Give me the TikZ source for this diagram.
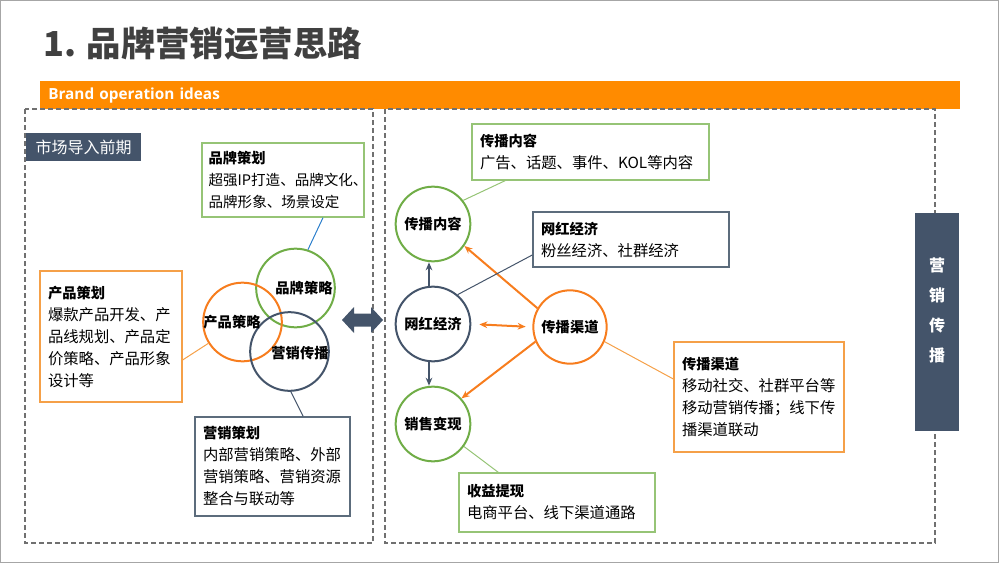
\documentclass[tikz,border=0pt]{standalone}
\usepackage{fontspec}
\setmainfont{Noto Sans CJK SC}
\newfontfamily\barfont{Open Sans}
\usetikzlibrary{arrows.meta}

\definecolor{slate}{RGB}{68,84,106}
\definecolor{barorange}{RGB}{255,139,0}
\definecolor{corange}{RGB}{247,125,30}
\definecolor{borange}{RGB}{245,160,72}
\definecolor{cgreen}{RGB}{112,173,71}
\definecolor{bgreen}{RGB}{150,196,118}
\definecolor{bslate}{RGB}{92,108,124}
\definecolor{lblue}{RGB}{46,128,204}
\definecolor{titlegray}{RGB}{64,64,64}
\definecolor{dgray}{RGB}{112,112,112}

\newcommand\boxhead[1]{{\bfseries\fontsize{10.7}{16.5}\selectfont #1}\\}

\begin{document}
\begin{tikzpicture}[x=0.75pt, y=-0.75pt,
  textbox/.style={draw, line width=1pt, align=left, inner xsep=6pt, inner ysep=0pt,
    font=\fontsize{11.5}{16.5}\selectfont},
  circ/.style={circle, line width=1.5pt, inner sep=0pt, font=\bfseries\fontsize{10.7}{13}\selectfont},
  cname/.style={inner sep=0pt, font=\bfseries\fontsize{10.7}{13}\selectfont},
  dashbox/.style={draw=dgray, line width=0.9pt, dash pattern=on 3.75pt off 2.25pt},
  oarrow/.style={draw=corange, line width=1.5pt, -{Stealth[length=6pt,width=5pt]}},
  darrow/.style={draw=slate, line width=1.5pt, -{Stealth[length=6pt,width=5pt]}}
]
  \useasboundingbox (0,0) rectangle (1000,564);
  \draw [gray!70, line width=0.75pt] (0.5,0.5) rectangle (998,562);

  % title and band
  \node [anchor=base west, inner sep=0pt, text=titlegray,
    font=\bfseries\fontsize{25.8}{30}\selectfont] (title) at (43,56) {1. 品牌营销运营思路};
  \node [anchor=north west, fill=barorange, minimum width=690pt, minimum height=21pt,
    text width=678pt, inner xsep=6pt, align=left, text=white,
    font=\barfont\bfseries\fontsize{11.5}{13}\selectfont] (band) at (40,81) {Brand operation ideas};

  \draw [dashbox] (25,109) rectangle (373,543);
  \draw [dashbox] (385,109) rectangle (935,543);

  % left panel
  \node [fill=slate, text=white, minimum width=86.25pt, minimum height=21pt, inner sep=0pt,
    font=\fontsize{12}{14}\selectfont] (stage) at (83.5,147) {市场导入前期};

  \node [circ, draw=cgreen, minimum size=59pt] (pb) at (295.5,288) {};
  \node [circ, draw=corange, minimum size=59pt] (cp) at (242.5,322) {};
  \node [circ, draw=slate, minimum size=59pt] (yx) at (289.5,351.5) {};
  \node [cname] (pbt) at (304,288) {品牌策略};
  \node [cname] (cpt) at (232,322) {产品策略};
  \node [cname] (yxt) at (300,353) {营销传播};

  \node [textbox, draw=bgreen, text width=111.5pt, inner xsep=5pt, minimum height=55.5pt,
    font=\fontsize{10.9}{16.5}\selectfont] (pcbox) at (283,180)
    {\boxhead{品牌策划}超强IP打造、品牌文化、\\品牌形象、场景设定};
  \node [textbox, draw=borange, text width=94.5pt, minimum height=98.25pt] (cpbox) at (111,336.5)
    {\boxhead{产品策划}爆款产品开发、产\\品线规划、产品定\\价策略、产品形象\\设计等};
  \node [textbox, draw=bslate, text width=104.25pt, minimum height=74.25pt] (yxbox) at (272.5,466.5)
    {\boxhead{营销策划}内部营销策略、外部\\营销策略、营销资源\\整合与联动等};

  \draw [lblue, line width=0.75pt] ([xshift=30pt]pcbox.south) -- (pb.72);
  \draw [borange, line width=0.75pt] ([yshift=-17.6pt]cpbox.east) -- (cp.212);
  \draw [slate, line width=0.75pt] (yx.-88) -- ([xshift=23pt]yxbox.north);

  % link between panels
  \fill [slate] (342,320) -- (354,307) -- (354,313.5) -- (371,313.5) -- (371,307) -- (383,320)
    -- (371,333) -- (371,326.5) -- (354,326.5) -- (354,333) -- cycle;

  % right panel
  \node [circ, draw=cgreen, minimum size=56pt] (ck) at (433,224) {传播内容};
  \node [circ, draw=slate, minimum size=56pt] (wh) at (433,324) {网红经济};
  \node [circ, draw=cgreen, minimum size=56pt] (xs) at (433,424) {销售变现};
  \node [circ, draw=corange, minimum size=55pt] (qd) at (570,327) {传播渠道};

  \node [textbox, draw=bgreen, text width=165.75pt, minimum height=42pt] (ckbox) at (590.5,152)
    {\boxhead{传播内容}广告、话题、事件、KOL等内容};
  \node [textbox, draw=bslate, text width=135pt, minimum height=41.25pt] (whbox) at (631,239.5)
    {\boxhead{网红经济}粉丝经济、社群经济};
  \node [textbox, draw=borange, text width=115.5pt, minimum height=82.5pt] (qdbox) at (759,397)
    {\boxhead{传播渠道}移动社交、社群平台等\\移动营销传播；线下传\\播渠道联动};
  \node [textbox, draw=bgreen, text width=135pt, minimum height=44.25pt] (sybox) at (557,502.5)
    {\boxhead{收益提现}电商平台、线下渠道通路};

  \draw [darrow] ([xshift=-3pt]wh.north) -- ([xshift=-3pt]ck.south);
  \draw [darrow] ([xshift=-3pt]wh.south) -- ([xshift=-3pt]xs.north);
  \draw [oarrow] (qd.150) -- (ck.-35);
  \draw [oarrow] (qd.203) -- (xs.42);
  \draw [oarrow, {Stealth[length=6pt,width=5pt]}-{Stealth[length=6pt,width=5pt]},
    shorten <=6pt, shorten >=5pt] (wh.east) -- (qd.west);

  \draw [bgreen, line width=0.75pt] ([xshift=-64pt]ckbox.south) -- (ck.38);
  \draw [slate, line width=0.75pt] ([yshift=-11.6pt]whbox.west) -- (wh.50);
  \draw [borange, line width=0.75pt] (qd.-23) -- ([yshift=13.5pt]qdbox.west);
  \draw [bgreen, line width=0.75pt] (xs.-36) -- ([xshift=-44pt]sybox.north);

  % side band
  \node [fill=slate, minimum width=33pt, minimum height=163.5pt, inner sep=0pt] (side) at (937,322) {};
  \node [align=center, text=white, inner sep=0pt,
    font=\bfseries\fontsize{12}{22.5}\selectfont] (sidet) at (937,310) {营\\销\\传\\播};
\end{tikzpicture}
\end{document}
